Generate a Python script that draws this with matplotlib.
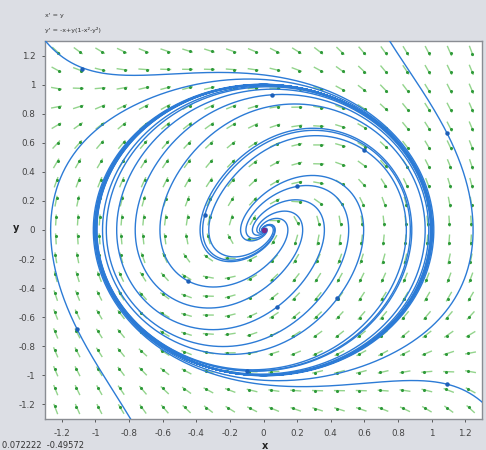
import numpy as np
import matplotlib
matplotlib.use("Agg")
import matplotlib.pyplot as plt
from matplotlib.collections import LineCollection

# ---- data ----
x_ticks = [-1.2, -1.0, -0.8, -0.6, -0.4, -0.2, 0.0, 0.2, 0.4, 0.6, 0.8, 1.0, 1.2]
x_tick_labels = ["-1.2", "-1", "-0.8", "-0.6", "-0.4", "-0.2", "0", "0.2", "0.4", "0.6", "0.8", "1", "1.2"]
y_ticks = x_ticks
y_tick_labels = x_tick_labels
# initial points of the drawn solutions
seed_x = [-1.29, 1.09, 1.09, -1.11, -0.35, 0.08, 0.44, 0.20, -0.45, 0.05, -0.10, 0.60]
seed_y = [1.29, -1.06, 0.67, -0.68, 0.10, -0.53, -0.47, 0.30, -0.35, 0.93, -0.97, 0.55]
# marked points visible on the solutions
mark_x = [-1.08, 1.09, 1.09, -1.11, -0.35, 0.08, 0.44, 0.20, -0.45, 0.05, -0.10, 0.60]
mark_y = [1.11, -1.06, 0.67, -0.68, 0.10, -0.53, -0.47, 0.30, -0.35, 0.93, -0.97, 0.55]
equilibrium_x = [0.0]
equilibrium_y = [0.0]
cursor_text = "0.072222  -0.49572"
eq_lines = ["x' = y", "y' = -x+y(1-x\u00b2-y\u00b2)"]
n_arrows = 20

XMIN, XMAX, YMIN, YMAX = -1.3, 1.3, -1.3, 1.3


def field(x, y):
    return y, -x + y * (1 - x**2 - y**2)


def integrate(x0, y0, direction, tmax, dt=0.005):
    pts = [(x0, y0)]
    x, y = x0, y0
    h = dt * direction
    for _ in range(int(tmax / dt)):
        k1 = field(x, y)
        k2 = field(x + h * k1[0] / 2, y + h * k1[1] / 2)
        k3 = field(x + h * k2[0] / 2, y + h * k2[1] / 2)
        k4 = field(x + h * k3[0], y + h * k3[1])
        x = x + h * (k1[0] + 2 * k2[0] + 2 * k3[0] + k4[0]) / 6
        y = y + h * (k1[1] + 2 * k2[1] + 2 * k3[1] + k4[1]) / 6
        pts.append((x, y))
        if abs(x) > 1.5 or abs(y) > 1.5 or (x * x + y * y) < 1e-5:
            break
    return np.array(pts)


fig = plt.figure(figsize=(4.86, 4.5), dpi=100)
fig.patch.set_facecolor("#dcdee4")
ax = fig.add_axes([0.0926, 0.0689, 0.8992, 0.84])
ax.set_facecolor("white")
ax.set_xlim(XMIN, XMAX)
ax.set_ylim(YMIN, YMAX)

# direction field
px_x = 0.8992 * 486 / (XMAX - XMIN)
px_y = 0.84 * 450 / (YMAX - YMIN)
cx = XMIN + (np.arange(n_arrows) + 0.5) * (XMAX - XMIN) / n_arrows
cy = YMIN + (np.arange(n_arrows) + 0.5) * (YMAX - YMIN) / n_arrows
GX, GY = np.meshgrid(cx, cy)
U, V = field(GX, GY)
Up, Vp = U * px_x, V * px_y
N = np.hypot(Up, Vp)
N[N == 0] = 1
L = 11.0
dxp = Up / N * L
dyp = Vp / N * L
x0 = GX - 0.45 * dxp / px_x
y0 = GY - 0.45 * dyp / px_y
x1 = GX + 0.55 * dxp / px_x
y1 = GY + 0.55 * dyp / px_y
segs = np.stack([np.stack([x0, y0], -1), np.stack([x1, y1], -1)], -2).reshape(-1, 2, 2)
ax.add_collection(LineCollection(segs, colors="#93d48c", linewidths=1.0, zorder=1))
hx = GX + 0.3 * dxp / px_x
hy = GY + 0.3 * dyp / px_y
ax.scatter(hx.ravel(), hy.ravel(), s=5, color="#2f9a3a", zorder=2, linewidths=0)

# solutions
for sx, sy in zip(seed_x, seed_y):
    fwd = integrate(sx, sy, 1, 30)
    bwd = integrate(sx, sy, -1, 20)
    path = np.vstack([bwd[::-1], fwd[1:]])
    ax.plot(path[:, 0], path[:, 1], color="#2c7bd6", lw=1.0, zorder=3)
ax.plot(mark_x, mark_y, "o", color="#1d5fb8", ms=2.2, zorder=4, ls="none")

ax.plot(equilibrium_x, equilibrium_y, "o", color="#7a2a8a", ms=3, zorder=5)

ax.set_xticks(x_ticks)
ax.set_xticklabels(x_tick_labels)
ax.set_yticks(y_ticks)
ax.set_yticklabels(y_tick_labels)
ax.tick_params(labelsize=6.3, length=2, width=0.6, colors="#444444", pad=5)
for s in ax.spines.values():
    s.set_color("#8a8d93")
    s.set_linewidth(1.0)

fig.text(16 / 486, 1 - 228 / 450, "y", fontsize=7, fontweight="bold", color="#222222",
         ha="center", va="center")
fig.text(265 / 486, 1 - 446 / 450, "x", fontsize=7, fontweight="bold", color="#222222",
         ha="center", va="center")
fig.text(45 / 486, 1 - 15 / 450, eq_lines[0], fontsize=4.6, color="#333333", va="center")
fig.text(45 / 486, 1 - 30 / 450, eq_lines[1], fontsize=4.6, color="#333333", va="center")
fig.text(2 / 486, 1 - 445 / 450, cursor_text, fontsize=6, color="#333333", va="center")

fig.savefig("out.png", dpi=100, facecolor=fig.get_facecolor())
